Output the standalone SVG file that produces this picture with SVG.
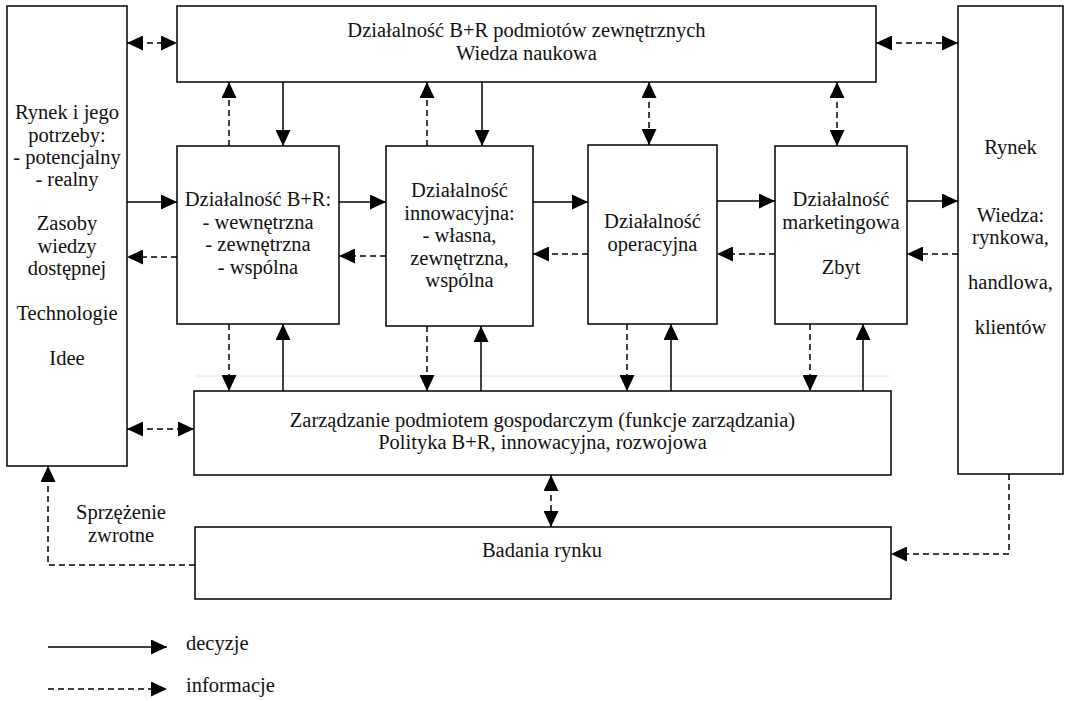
<svg xmlns="http://www.w3.org/2000/svg" width="1069" height="701" viewBox="0 0 1069 701">
<style>
.box{fill:#fff;stroke:#000;stroke-width:1.5}
.t{font-family:"Liberation Serif","Times New Roman",serif;font-size:20.5px;fill:#111;text-anchor:middle}
.tl{font-family:"Liberation Serif","Times New Roman",serif;font-size:20.5px;fill:#111}
.c{fill:none;stroke:#000;stroke-width:1.5;marker-end:url(#ah)}
.d{stroke-dasharray:6,4}
.b{marker-start:url(#ah)}
</style>
<defs>
<marker id="ah" markerUnits="userSpaceOnUse" markerWidth="16" markerHeight="15" refX="16" refY="7.5" orient="auto-start-reverse">
<path d="M0,0 L16,7.5 L0,15 z" fill="#000"/>
</marker>
</defs>
<rect width="1069" height="701" fill="#fff"/>
<line x1="196" y1="376" x2="890" y2="376" stroke="#e2e2e2" stroke-width="1"/>
<g id="rynek-potrzeby">
<rect class="box" x="7" y="6" width="120" height="460"/>
<text class="t" x="67" y="119">Rynek i jego</text>
<text class="t" x="67" y="141.5">potrzeby:</text>
<text class="t" x="67" y="164">- potencjalny</text>
<text class="t" x="67" y="186">- realny</text>
<text class="t" x="67" y="230">Zasoby</text>
<text class="t" x="67" y="252.5">wiedzy</text>
<text class="t" x="67" y="275">dostępnej</text>
<text class="t" x="67" y="320">Technologie</text>
<text class="t" x="67" y="365">Idee</text>
</g>
<g id="br-zewn">
<rect class="box" x="177" y="6" width="699" height="76"/>
<text class="t" x="526.5" y="37">Działalność B+R podmiotów zewnętrznych</text>
<text class="t" x="526.5" y="59.5">Wiedza naukowa</text>
</g>
<g id="rynek-wiedza">
<rect class="box" x="958" y="6" width="105" height="468"/>
<text class="t" x="1010.5" y="154">Rynek</text>
<text class="t" x="1010.5" y="221.5">Wiedza:</text>
<text class="t" x="1010.5" y="244">rynkowa,</text>
<text class="t" x="1010.5" y="289">handlowa,</text>
<text class="t" x="1010.5" y="334">klientów</text>
</g>
<g id="br">
<rect class="box" x="177" y="146" width="162" height="178"/>
<text class="t" x="258" y="206">Działalność B+R:</text>
<text class="t" x="258" y="228.5">- wewnętrzna</text>
<text class="t" x="258" y="251">- zewnętrzna</text>
<text class="t" x="258" y="273.5">- wspólna</text>
</g>
<g id="innowacyjna">
<rect class="box" x="386" y="146" width="147" height="180"/>
<text class="t" x="459.5" y="197">Działalność</text>
<text class="t" x="459.5" y="219.5">innowacyjna:</text>
<text class="t" x="459.5" y="242">- własna,</text>
<text class="t" x="459.5" y="264.5">zewnętrzna,</text>
<text class="t" x="459.5" y="287">wspólna</text>
</g>
<g id="operacyjna">
<rect class="box" x="588" y="145" width="129" height="179"/>
<text class="t" x="652.5" y="228">Działalność</text>
<text class="t" x="652.5" y="250.5">operacyjna</text>
</g>
<g id="marketingowa">
<rect class="box" x="775" y="146" width="132" height="178"/>
<text class="t" x="841" y="206">Działalność</text>
<text class="t" x="841" y="228.5">marketingowa</text>
<text class="t" x="841" y="273.5">Zbyt</text>
</g>
<g id="zarzadzanie">
<rect class="box" x="194" y="391" width="697" height="84"/>
<text class="t" x="542.5" y="427">Zarządzanie podmiotem gospodarczym (funkcje zarządzania)</text>
<text class="t" x="542.5" y="448.5">Polityka B+R, innowacyjna, rozwojowa</text>
</g>
<g id="badania">
<rect class="box" x="195" y="527" width="696" height="72"/>
<text class="t" x="542" y="557">Badania rynku</text>
</g>
<g id="connectors">
<path class="c d b" d="M127,43 H177"/>
<path class="c d b" d="M876,43 H958"/>
<path class="c d b" d="M127,429 H194"/>
<path class="c" d="M127,202 H177"/>
<path class="c d" d="M177,257 H127"/>
<path class="c" d="M339,202 H386"/>
<path class="c d" d="M386,256 H339"/>
<path class="c" d="M533,202 H588"/>
<path class="c d" d="M588,254 H533"/>
<path class="c" d="M717,201 H775"/>
<path class="c d" d="M775,254 H717"/>
<path class="c" d="M907,201 H958"/>
<path class="c d" d="M958,254 H907"/>
<path class="c d" d="M229,146 V82"/>
<path class="c" d="M283,82 V146"/>
<path class="c d" d="M427,146 V82"/>
<path class="c" d="M482,82 V146"/>
<path class="c d b" d="M649,82 V145"/>
<path class="c d b" d="M837,82 V146"/>
<path class="c d" d="M229,324 V391"/>
<path class="c" d="M283,391 V324"/>
<path class="c d" d="M427,326 V391"/>
<path class="c" d="M481,391 V326"/>
<path class="c d" d="M627,324 V391"/>
<path class="c" d="M671,391 V324"/>
<path class="c d" d="M810,324 V391"/>
<path class="c" d="M863,391 V324"/>
<path class="c d b" d="M551,475 V527"/>
<path class="c d" d="M1009,474 V554 H891"/>
<path class="c d" d="M195,565 H48 V466"/>
</g>
<g id="sprzezenie">
<text class="t" x="121" y="519">Sprzężenie</text>
<text class="t" x="121" y="541.5">zwrotne</text>
</g>
<g id="legenda">
<path class="c" d="M48,647 H167"/>
<path class="c d" d="M48,689 H167"/>
<text class="tl" x="186" y="650">decyzje</text>
<text class="tl" x="186" y="692">informacje</text>
</g>
</svg>
